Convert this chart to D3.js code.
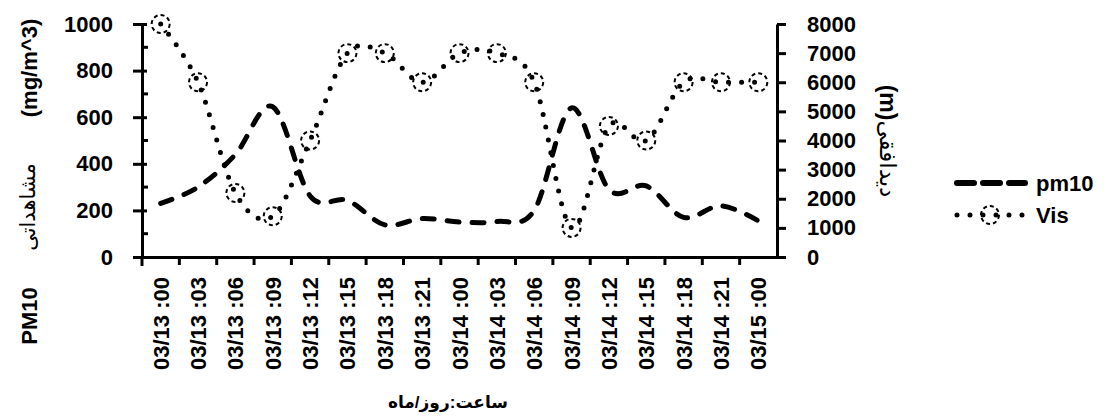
<!DOCTYPE html>
<html>
<head>
<meta charset="utf-8">
<title>PM10 and visibility</title>
<style>
  body { margin: 0; background: #fff; }
  svg { display: block; }
</style>
</head>
<body>
<script src="https://d3js.org/d3.v7.min.js"></script>
<script>
// data
var labels = ["03/13 :00","03/13 :03","03/13 :06","03/13 :09","03/13 :12","03/13 :15",
              "03/13 :18","03/13 :21","03/14 :00","03/14 :03","03/14 :06","03/14 :09",
              "03/14 :12","03/14 :15","03/14 :18","03/14 :21","03/15 :00"];
var pm10 = [230, 300, 440, 645, 262, 243, 138, 165, 150, 152, 200, 640, 290, 305, 170, 220, 155];
var vis  = [8000, 6000, 2200, 1400, 4000, 7000, 7000, 6000, 7000, 7000, 6000, 1000, 4500, 4000, 6000, 6000, 6000];
var leftTicks  = [0, 200, 400, 600, 800, 1000];
var leftMinor  = [100, 300, 500, 700, 900];
var rightTicks = [0, 1000, 2000, 3000, 4000, 5000, 6000, 7000, 8000];

var W = 1111, H = 416;
var plot = {left: 142, right: 777, top: 24, bottom: 257};
var FONT = "'Liberation Sans', 'DejaVu Sans', sans-serif";

var svg = d3.select("body").append("svg")
    .attr("width", W).attr("height", H)
    .style("font-family", FONT);

var x = d3.scaleBand().domain(labels).range([plot.left, plot.right]).padding(0);
var yL = d3.scaleLinear().domain([0, 1000]).range([plot.bottom, plot.top]);
var yR = d3.scaleLinear().domain([0, 8000]).range([plot.bottom, plot.top]);
var cx = function(i) { return x(labels[i]) + x.bandwidth() / 2; };

function styleAxis(g) {
    g.selectAll("path.domain").attr("stroke", "#000").attr("stroke-width", 3);
    g.selectAll(".tick line").attr("stroke", "#000").attr("stroke-width", 3);
    g.selectAll(".tick text").attr("fill", "#000")
        .style("font-size", "22px").style("font-weight", "bold");
}

// x axis (labels at band centres, ticks between bands)
var xg = svg.append("g")
    .attr("transform", "translate(0," + plot.bottom + ")")
    .call(d3.axisBottom(x).tickSize(0).tickSizeOuter(0));
styleAxis(xg);
xg.selectAll(".tick text")
    .attr("transform", "rotate(-90)")
    .attr("text-anchor", "end")
    .attr("x", -20).attr("y", 8).attr("dy", 0);
xg.selectAll("line.sep")
    .data(labels.slice(1))
    .enter().append("line")
    .attr("class", "sep")
    .attr("x1", function(d) { return x(d); }).attr("x2", function(d) { return x(d); })
    .attr("y1", 0).attr("y2", 8)
    .attr("stroke", "#000").attr("stroke-width", 3);

// left axis, major ticks crossing, minor ticks inside
var lg = svg.append("g")
    .attr("transform", "translate(" + plot.left + ",0)")
    .call(d3.axisLeft(yL).tickValues(leftTicks).tickFormat(d3.format("d"))
        .tickSize(9).tickSizeOuter(0).tickPadding(20));
styleAxis(lg);
lg.selectAll(".tick line").attr("x2", 5).attr("x1", -9);
lg.selectAll("line.minor")
    .data(leftMinor)
    .enter().append("line")
    .attr("class", "minor")
    .attr("x1", 0).attr("x2", 6)
    .attr("y1", function(d) { return yL(d); }).attr("y2", function(d) { return yL(d); })
    .attr("stroke", "#000").attr("stroke-width", 3);
lg.append("line")
    .attr("x1", 0).attr("x2", 0)
    .attr("y1", plot.bottom).attr("y2", plot.bottom + 9)
    .attr("stroke", "#000").attr("stroke-width", 3);

// right axis
var rg = svg.append("g")
    .attr("transform", "translate(" + plot.right + ",0)")
    .call(d3.axisRight(yR).tickValues(rightTicks).tickFormat(d3.format("d"))
        .tickSize(9).tickSizeOuter(0).tickPadding(21));
styleAxis(rg);

// series
var linePm = d3.line()
    .x(function(d, i) { return cx(i); })
    .y(function(d) { return yL(d); })
    .curve(d3.curveCardinal.tension(0));
var lineVis = d3.line()
    .x(function(d, i) { return cx(i); })
    .y(function(d) { return yR(d); })
    .curve(d3.curveCardinal.tension(0));

svg.append("path")
    .datum(pm10)
    .attr("d", linePm)
    .attr("fill", "none").attr("stroke", "#000")
    .attr("stroke-width", 5).attr("stroke-linecap", "round")
    .attr("stroke-dasharray", "12,13");

svg.append("path")
    .datum(vis)
    .attr("d", lineVis)
    .attr("fill", "none").attr("stroke", "#000")
    .attr("stroke-width", 5).attr("stroke-linecap", "round")
    .attr("stroke-dasharray", "0,13");

svg.selectAll("circle.mk")
    .data(vis)
    .enter().append("circle")
    .attr("class", "mk")
    .attr("cx", function(d, i) { return cx(i); })
    .attr("cy", function(d) { return yR(d); })
    .attr("r", 9)
    .attr("fill", "none").attr("stroke", "#000")
    .attr("stroke-width", 2).attr("stroke-dasharray", "4,3");

// axis titles
svg.append("text")
    .attr("transform", "translate(37,316) rotate(-90)")
    .attr("text-anchor", "middle")
    .style("font-size", "22px").style("font-weight", "bold")
    .text("PM10");
svg.append("text")
    .attr("transform", "translate(35,207) rotate(-90)")
    .attr("text-anchor", "middle")
    .style("font-size", "21px")
    .text("مشاهداتی");
svg.append("text")
    .attr("transform", "translate(37,68) rotate(-90)")
    .attr("text-anchor", "middle")
    .style("font-size", "22px").style("font-weight", "bold")
    .text("(mg/m^3)");

var rt = svg.append("text")
    .attr("transform", "translate(880,141) rotate(90)")
    .attr("text-anchor", "middle")
    .style("font-size", "23px");
rt.append("tspan").style("font-weight", "bold").text("(m)");
rt.append("tspan").text("دیدافقی");

svg.append("text")
    .attr("x", 448).attr("y", 408)
    .attr("text-anchor", "middle")
    .style("font-size", "17px").style("font-weight", "bold")
    .text("ساعت:روز/ماه");

// legend
var leg = svg.append("g");
leg.append("line")
    .attr("x1", 957).attr("x2", 1025).attr("y1", 183).attr("y2", 183)
    .attr("stroke", "#000").attr("stroke-width", 6)
    .attr("stroke-linecap", "round").attr("stroke-dasharray", "17,9");
leg.append("line")
    .attr("x1", 957).attr("x2", 1025).attr("y1", 215).attr("y2", 215)
    .attr("stroke", "#000").attr("stroke-width", 5)
    .attr("stroke-linecap", "round").attr("stroke-dasharray", "0,13");
leg.append("circle")
    .attr("cx", 990).attr("cy", 215).attr("r", 9)
    .attr("fill", "none").attr("stroke", "#000")
    .attr("stroke-width", 2).attr("stroke-dasharray", "4,3");
leg.selectAll("text")
    .data(["pm10", "Vis"])
    .enter().append("text")
    .attr("x", 1036)
    .attr("y", function(d, i) { return 191 + i * 32; })
    .style("font-size", "22px").style("font-weight", "bold")
    .text(function(d) { return d; });
</script>
</body>
</html>
